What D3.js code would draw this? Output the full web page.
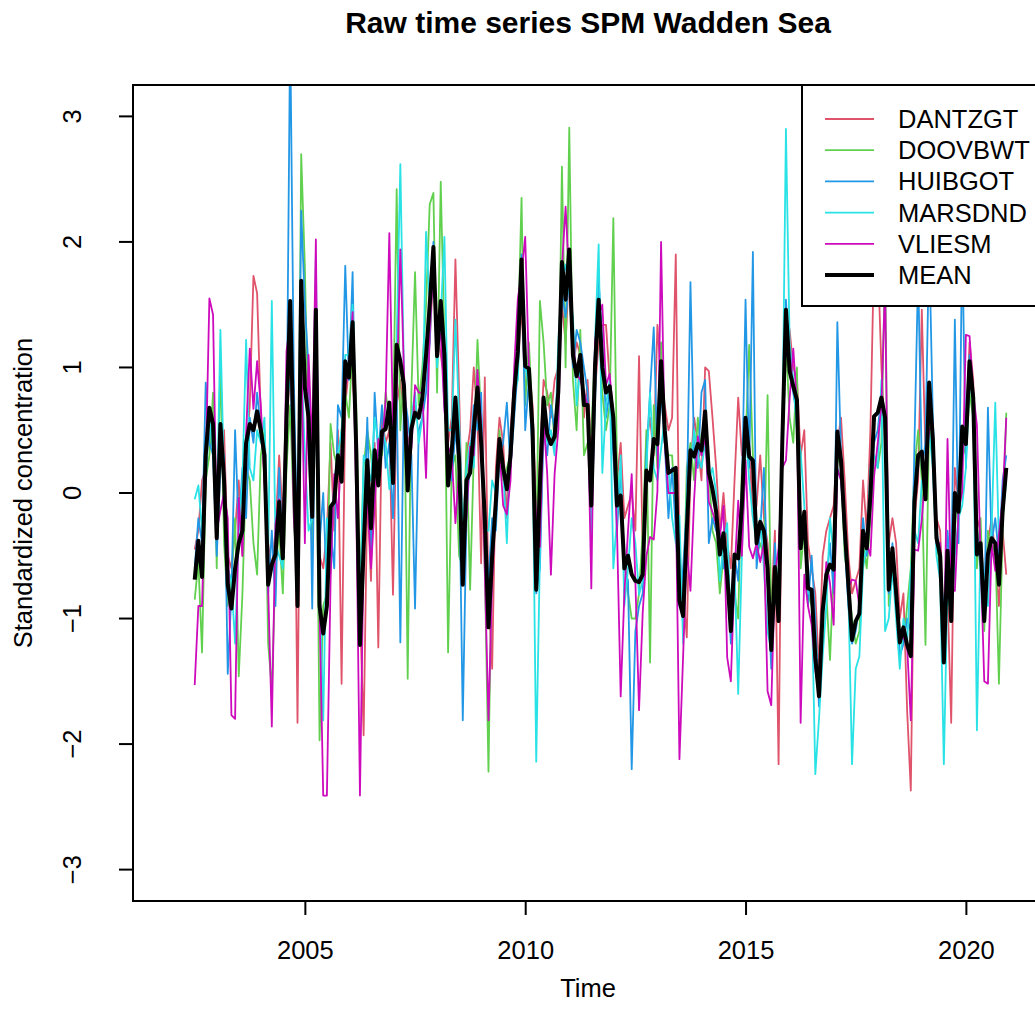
<!DOCTYPE html>
<html>
<head>
<meta charset="utf-8">
<script src="https://cdn.jsdelivr.net/npm/d3@7"></script>
<style>
  body { margin: 0; background: #fff; }
  svg text { font-family: "Liberation Sans", Arial, sans-serif; fill: #000; }
</style>
</head>
<body>
<svg id="chart" width="1035" height="1025"></svg>
<script>
// monthly series, first value Jul 2002
var startYear = 2002.5;
var freq = 12;

var xTicks = [2005, 2010, 2015, 2020];
var yTicks = [-3, -2, -1, 0, 1, 2, 3];

var seriesNames = ["DANTZGT", "DOOVBWT", "HUIBGOT", "MARSDND", "VLIESM", "MEAN"];
var seriesColors = ["#DF536B", "#61D04F", "#2297E6", "#28E2E5", "#CD0BBC", "#000000"];

var dantzgt = [
  -0.45,-0.30,0.10,0.20,0.55,0.40,-0.20,0.30,0.50,-0.50,
  -0.60,-0.30,0.10,-0.50,0.30,0.70,1.73,1.59,0.60,0.10,
  -0.40,-0.60,-0.30,0.30,-0.20,0.50,1.00,0.80,-1.83,1.20,
  1.00,0.80,0.20,1.20,-0.50,-0.60,-0.30,0.40,-0.30,0.50,
  -1.52,0.70,1.00,0.90,0.50,-0.90,-1.93,0.00,-0.70,0.40,
  -1.23,0.60,0.40,0.50,-0.81,0.70,0.90,0.60,0.40,0.50,
  0.70,0.60,0.80,1.00,1.20,1.80,1.30,1.10,0.90,0.40,
  0.60,1.86,0.80,-0.40,0.30,0.50,1.00,0.60,-0.56,0.92,
  -0.80,-1.40,0.20,0.60,0.40,-0.20,0.50,0.90,1.00,1.50,
  0.80,1.00,0.70,-0.20,0.30,0.90,0.80,0.60,0.90,1.00,
  1.50,1.20,1.80,1.00,1.20,1.10,0.60,0.90,0.30,0.80,
  1.20,1.34,1.34,0.90,0.50,0.10,0.40,-0.20,-0.10,0.00,
  -0.30,1.09,-0.50,0.40,0.60,0.30,1.34,0.90,0.70,0.50,
  0.60,1.90,-0.50,-0.80,-1.15,0.20,0.60,0.40,0.10,1.00,
  0.97,0.60,0.20,-0.30,0.00,-0.40,-0.60,0.10,0.76,0.30,
  0.30,0.40,-0.20,-0.10,0.30,-0.20,-0.40,-0.90,-0.30,-2.16,
  0.60,1.40,1.30,1.00,0.90,0.30,0.50,-0.40,-0.60,-0.80,
  -1.40,-0.50,-0.30,-0.20,-0.10,0.40,0.60,0.10,-0.50,-0.80,
  -0.70,-0.60,0.10,-0.30,0.50,1.92,1.90,1.00,0.40,-0.40,
  -0.20,-0.40,-1.00,-0.80,-1.73,-2.37,-0.20,0.10,1.46,0.30,
  0.80,0.50,-0.20,-0.30,-1.10,-0.80,-1.83,0.20,-0.10,0.30,
  0.50,1.20,0.90,-0.20,-0.30,-0.80,-0.40,-0.20,-0.50,-0.90,-0.30,-0.65
];

var doovbwt = [
  -0.85,-0.55,-1.27,0.10,0.30,0.80,-0.60,1.09,-0.40,-0.90,
  -0.70,-0.20,-1.46,-0.80,0.20,0.10,-0.40,-0.65,0.30,0.50,
  -1.20,-1.56,-0.60,-0.30,-0.80,0.20,0.70,-0.20,-0.80,2.70,
  1.80,0.40,-0.40,1.00,-1.97,-0.90,-0.80,0.55,0.30,0.20,
  0.50,0.80,0.60,1.20,0.70,-0.80,0.20,0.50,0.30,0.00,
  0.40,0.30,0.80,0.60,0.50,2.42,0.50,1.00,-1.48,0.80,
  1.76,0.70,1.00,1.50,2.30,2.39,0.80,2.48,1.20,-1.27,
  0.20,0.30,-0.50,-0.60,0.40,-0.77,0.30,1.22,0.60,-0.60,
  -2.22,-0.30,-0.20,0.50,0.10,0.20,0.30,0.70,1.20,2.35,
  0.70,1.20,0.60,-0.50,1.53,1.20,0.70,0.80,0.40,0.50,
  2.60,1.00,2.91,0.90,0.50,1.30,0.30,0.40,0.50,1.10,
  1.40,0.80,0.50,0.70,2.19,0.20,-0.10,-0.50,-0.80,-1.00,
  -1.00,-0.80,-0.30,0.50,-1.35,0.70,0.20,1.20,0.40,0.30,
  0.30,-0.20,-0.60,-1.00,0.20,0.40,0.10,0.60,0.30,0.50,
  0.20,-0.30,-0.40,-0.80,-0.50,-0.70,-1.10,-0.80,-1.00,0.20,
  0.40,1.18,0.30,-0.50,-0.40,-0.50,0.78,-1.00,-0.80,-0.60,
  0.30,1.20,0.60,0.40,1.00,-0.60,-0.30,-0.80,-0.90,-1.10,
  -1.60,-0.90,-0.80,-1.33,-0.60,0.30,0.20,-0.50,-0.70,-1.00,
  -1.20,-1.10,-0.40,-0.60,-0.20,0.30,0.20,0.40,1.88,-0.90,
  -0.50,-0.90,-1.10,-1.20,-0.90,-0.60,0.20,0.50,0.10,-1.21,
  0.60,0.30,-0.40,-0.60,-1.20,-0.90,-0.80,-0.30,0.10,0.40,
  0.30,0.80,0.60,-0.60,-0.20,-1.10,-0.30,-0.50,-0.40,-1.52,-0.30,0.64
];

var huibgot = [
  -0.60,-0.20,-0.40,0.88,0.40,0.30,-0.50,0.20,0.30,-1.44,
  -0.80,0.50,-0.30,0.20,-0.20,0.60,0.40,0.80,0.50,0.20,
  -0.80,-0.30,-0.90,0.20,-0.50,0.40,3.70,0.90,-0.50,2.25,
  1.50,1.00,-0.92,1.20,-0.40,0.00,-0.80,-0.30,-0.60,0.70,
  0.60,1.81,0.90,1.76,0.20,-0.90,-0.30,0.60,-0.50,0.80,
  0.30,0.70,0.20,0.40,-0.20,0.80,-1.19,0.80,0.60,0.30,
  -0.92,0.50,0.60,0.80,1.20,2.00,1.20,1.40,0.70,0.30,
  0.10,0.50,0.20,-1.81,-0.20,0.30,0.70,0.50,0.80,-0.40,
  -0.70,-0.20,-0.30,0.30,0.40,0.72,0.20,0.60,1.00,1.90,
  0.50,0.90,0.30,-0.80,-0.60,0.50,0.30,0.70,0.50,0.80,
  1.60,1.40,1.70,1.00,1.30,1.20,1.00,0.80,-0.20,0.70,
  1.70,1.20,0.60,0.80,0.30,-0.30,0.20,-0.60,-0.70,-2.20,
  -1.10,-0.90,-0.80,0.30,0.80,1.32,0.30,0.80,0.40,-0.20,
  0.20,-0.30,-0.90,-0.60,-0.10,1.68,0.30,0.20,0.80,0.90,
  -0.40,-0.20,-0.30,-0.30,-0.60,-0.60,-1.20,-0.50,-0.70,0.00,
  1.54,0.20,1.92,-0.60,-0.30,0.20,-0.70,-1.40,-0.40,-0.90,
  0.50,1.54,1.00,0.80,0.60,-0.30,-0.20,-0.90,-0.50,-1.00,
  -1.70,-1.00,-0.70,-0.40,-0.80,1.36,0.30,-0.40,-0.90,-1.20,
  -1.10,-0.90,-0.20,-0.50,-0.10,0.40,0.50,0.80,0.50,-0.80,
  -0.40,-0.80,-1.30,-1.20,-1.00,-1.10,0.40,1.76,0.20,0.40,
  2.00,0.60,-0.30,-0.50,-1.00,-0.30,-0.70,1.38,-0.40,2.04,
  0.20,1.10,0.80,-0.30,-0.60,-1.00,0.68,-0.40,-0.20,-0.50,0.10,0.30
];

var marsdnd = [
  -0.05,0.06,-0.30,0.10,0.60,0.30,-0.20,1.30,0.10,-0.60,
  -0.70,-1.20,-0.30,0.10,1.22,0.20,0.10,0.50,0.40,0.60,
  -0.50,1.53,-0.40,-0.50,-0.60,0.75,0.90,0.20,-0.70,1.10,
  0.30,-0.30,-0.20,1.88,-0.70,-1.81,-0.20,-0.50,0.10,0.30,
  0.50,1.10,1.10,1.50,0.40,-1.00,0.30,0.20,0.10,0.60,
  0.40,0.50,0.40,0.03,0.40,1.20,2.62,0.90,0.20,0.60,
  0.80,0.40,0.60,2.08,1.50,1.80,1.00,1.40,2.04,0.50,
  0.50,1.38,0.60,-0.30,0.20,0.40,0.20,0.90,0.60,-0.30,
  -0.30,0.10,0.00,0.40,0.20,-0.40,0.40,0.80,0.90,1.80,
  1.01,0.85,0.40,-2.14,-0.50,0.60,0.40,0.50,0.30,1.20,
  1.70,1.82,1.60,1.40,0.70,1.00,0.80,0.70,-0.34,1.20,
  1.98,0.16,0.70,0.90,-0.60,-0.20,0.30,-0.90,-0.60,-0.20,
  -0.40,-0.81,-0.70,0.20,0.80,0.20,0.10,0.35,0.60,0.20,
  -0.20,-0.40,-0.18,-1.20,0.00,0.20,0.50,0.30,0.20,0.40,
  0.10,0.20,0.00,-0.70,-0.40,-0.24,-1.10,-0.60,-1.60,-0.50,
  0.50,0.10,-0.20,-0.40,-0.20,-0.60,-1.10,-1.26,-0.80,-1.00,
  0.40,2.90,1.20,0.90,0.50,0.33,-0.10,-0.80,-0.80,-2.24,
  -1.80,-1.30,-0.90,-0.20,-0.50,0.20,0.10,-0.30,-0.80,-2.16,
  -1.40,-1.30,-0.60,-0.40,0.20,0.30,0.20,0.90,-1.10,-1.00,
  -0.60,-1.00,-1.40,-1.00,-1.20,-0.62,-0.30,-0.40,0.10,0.10,
  0.50,0.20,-0.50,-0.70,-2.16,-0.73,-1.00,-0.50,-0.20,-0.10,
  0.20,0.90,0.70,-1.89,-0.40,-0.70,-0.90,-0.30,0.72,-0.40,-0.20,0.11
];

var vliesm = [
  -1.53,-0.90,-0.90,0.20,1.55,1.42,-0.30,-0.14,0.00,-0.20,
  -1.77,-1.80,-0.04,-0.50,0.48,1.15,0.67,1.05,0.70,0.10,
  -0.75,-1.86,-0.25,-0.05,-0.50,1.13,1.35,-0.20,-0.67,1.20,
  -0.40,1.10,0.37,2.02,-0.93,-2.41,-2.41,-0.70,0.15,-0.20,
  0.37,0.84,1.00,1.44,-0.10,-2.41,-0.47,0.00,-0.60,-0.10,
  0.43,0.35,0.75,2.07,0.51,0.78,1.94,0.95,0.38,0.35,
  0.86,0.80,0.80,0.12,1.30,1.81,1.15,1.27,0.66,0.37,
  0.30,-0.24,0.20,-0.54,-0.20,0.37,0.30,0.98,0.56,-0.62,
  -1.81,-0.70,-0.05,0.35,-0.10,-0.17,0.10,1.00,1.55,1.75,
  2.04,1.00,0.50,-0.21,-0.43,0.60,0.15,-0.65,0.15,0.50,
  1.80,2.28,1.69,1.20,0.95,0.90,0.80,0.70,-0.76,1.20,
  1.42,1.50,0.86,0.95,0.61,-0.30,-1.62,-0.80,-0.30,0.15,
  -0.70,-1.73,-0.95,-0.50,-0.35,-0.37,0.01,2.00,0.40,0.00,
  0.00,0.00,-2.12,-1.30,-0.45,-0.78,-0.05,0.45,0.30,0.45,
  -0.07,-0.15,-0.25,-0.35,-0.10,-1.31,-1.50,-0.65,-0.06,-0.50,
  0.26,-0.43,-0.52,-0.40,-0.55,-0.40,-1.58,-1.69,-0.65,-0.44,
  0.20,0.26,0.75,1.15,0.70,-1.83,-0.65,-0.90,-1.05,-1.41,
  -1.60,-1.00,-0.55,-0.72,-1.05,0.19,0.10,-0.30,-0.75,-0.69,
  -0.70,-0.90,-0.40,-0.40,-0.50,0.13,0.40,0.70,1.67,-0.75,
  -0.50,-0.85,-1.15,-1.15,-1.22,-1.81,-0.45,-0.46,-0.21,0.16,
  0.50,0.55,-0.40,-0.40,-1.29,0.43,-0.77,-0.78,-0.15,0.01,
  1.26,1.25,0.80,0.54,-0.50,-1.50,-1.52,-0.40,-0.62,-0.33,-0.05,0.60
];

var mean = [
  -0.69,-0.38,-0.67,0.30,0.68,0.55,-0.36,0.55,0.10,-0.73,
  -0.92,-0.60,-0.40,-0.30,0.40,0.55,0.50,0.65,0.50,0.30,
  -0.73,-0.57,-0.49,-0.07,-0.52,0.60,1.53,0.30,-0.90,1.69,
  0.84,0.60,-0.19,1.46,-0.90,-1.12,-0.90,-0.11,-0.07,0.30,
  0.09,1.05,0.92,1.36,0.34,-1.21,-0.44,0.26,-0.28,0.34,
  0.06,0.49,0.51,0.72,0.08,1.18,1.05,0.85,0.02,0.51,
  0.64,0.60,0.76,1.10,1.50,1.96,1.09,1.53,1.10,0.06,
  0.34,0.76,0.26,-0.73,0.10,0.16,0.50,0.84,0.40,-0.20,
  -1.07,-0.50,-0.07,0.43,0.20,0.03,0.30,0.80,1.13,1.86,
  1.01,0.99,0.50,-0.77,0.06,0.76,0.47,0.39,0.45,0.80,
  1.84,1.54,1.94,1.10,0.93,1.10,0.70,0.70,-0.10,1.00,
  1.54,1.00,0.80,0.85,0.60,-0.10,-0.02,-0.60,-0.50,-0.65,
  -0.70,-0.71,-0.65,0.18,0.10,0.43,0.39,1.05,0.50,0.16,
  0.18,0.20,-0.86,-0.98,-0.30,0.34,0.29,0.39,0.34,0.65,
  0.16,0.03,-0.15,-0.49,-0.32,-0.65,-1.10,-0.49,-0.52,-0.10,
  0.60,0.29,0.26,-0.40,-0.23,-0.30,-0.60,-1.25,-0.59,-1.02,
  0.40,1.46,0.97,0.85,0.74,-0.44,-0.15,-0.76,-0.77,-1.31,
  -1.62,-0.94,-0.65,-0.57,-0.61,0.49,0.26,-0.28,-0.73,-1.17,
  -1.02,-0.96,-0.30,-0.44,-0.02,0.61,0.64,0.76,0.60,-0.77,
  -0.44,-0.79,-1.19,-1.07,-1.21,-1.30,-0.07,0.30,0.33,-0.05,
  0.88,0.43,-0.36,-0.50,-1.35,-0.46,-1.02,0.00,-0.15,0.53,
  0.39,1.05,0.76,-0.49,-0.40,-1.02,-0.49,-0.36,-0.40,-0.73,-0.15,0.20
];

var allSeries = [dantzgt, doovbwt, huibgot, marsdnd, vliesm, mean];

// plot region (right edge falls just outside the picture)
var plot = {left: 133, top: 85, right: 1043, bottom: 901};

var x = d3.scaleLinear().domain([2001.1, 2021.75]).range([plot.left, plot.right]);
var y = d3.scaleLinear().domain([-3.25, 3.25]).range([plot.bottom, plot.top]);

var svg = d3.select("#chart");

svg.append("defs").append("clipPath")
    .attr("id", "plotclip")
  .append("rect")
    .attr("x", plot.left)
    .attr("y", plot.top)
    .attr("width", plot.right - plot.left)
    .attr("height", plot.bottom - plot.top);

var line = d3.line()
    .x(function(d, i) { return x(startYear + i / freq); })
    .y(function(d) { return y(d); });

svg.append("g")
    .attr("clip-path", "url(#plotclip)")
  .selectAll("path")
    .data(allSeries)
    .enter()
  .append("path")
    .attr("d", line)
    .attr("fill", "none")
    .attr("stroke", function(d, i) { return seriesColors[i]; })
    .attr("stroke-width", function(d, i) { return i == 5 ? 4 : 1.8; })
    .attr("stroke-linejoin", "round");

// x axis
var xAxis = svg.append("g")
    .attr("transform", "translate(0," + plot.bottom + ")")
    .call(d3.axisBottom(x).tickValues(xTicks).tickSize(14).tickPadding(26).tickFormat(d3.format("d")));
xAxis.select(".domain").remove();
xAxis.selectAll("line").attr("stroke", "#000").attr("stroke-width", 2);
xAxis.selectAll("text")
    .attr("font-size", "25.5px")
    .attr("font-family", "'Liberation Sans', Arial, sans-serif");

// y axis, labels turned like R
var yAxis = svg.append("g");
yAxis.selectAll("line")
    .data(yTicks)
    .enter()
  .append("line")
    .attr("x1", plot.left - 14)
    .attr("x2", plot.left)
    .attr("y1", function(d) { return y(d); })
    .attr("y2", function(d) { return y(d); })
    .attr("stroke", "#000")
    .attr("stroke-width", 2);
yAxis.selectAll("text")
    .data(yTicks)
    .enter()
  .append("text")
    .attr("transform", function(d) { return "translate(81," + y(d) + ") rotate(-90)"; })
    .attr("text-anchor", "middle")
    .attr("font-size", "25.5px")
    .text(d3.format("d"));

// box
svg.append("rect")
    .attr("x", plot.left)
    .attr("y", plot.top)
    .attr("width", plot.right - plot.left)
    .attr("height", plot.bottom - plot.top)
    .attr("fill", "none")
    .attr("stroke", "#000")
    .attr("stroke-width", 2);

// titles
svg.append("text")
    .attr("x", (plot.left + plot.right) / 2)
    .attr("y", 33)
    .attr("text-anchor", "middle")
    .attr("font-size", "30px")
    .attr("font-weight", "bold")
    .text("Raw time series SPM Wadden Sea");

svg.append("text")
    .attr("x", (plot.left + plot.right) / 2)
    .attr("y", 997)
    .attr("text-anchor", "middle")
    .attr("font-size", "25.5px")
    .text("Time");

svg.append("text")
    .attr("transform", "translate(32," + (plot.top + plot.bottom) / 2 + ") rotate(-90)")
    .attr("text-anchor", "middle")
    .attr("font-size", "25.5px")
    .text("Standardized concentration");

// legend
var legend = svg.append("g");
legend.append("rect")
    .attr("x", 802)
    .attr("y", plot.top)
    .attr("width", plot.right - 802)
    .attr("height", 221)
    .attr("fill", "#fff")
    .attr("stroke", "#000")
    .attr("stroke-width", 2);

var item = legend.selectAll(".item")
    .data(seriesNames)
    .enter()
  .append("g")
    .attr("class", "item")
    .attr("transform", function(d, i) { return "translate(0," + (119 + i * 31.2) + ")"; });

item.append("line")
    .attr("x1", 825)
    .attr("x2", 874)
    .attr("stroke", function(d, i) { return seriesColors[i]; })
    .attr("stroke-width", function(d, i) { return i == 5 ? 4 : 1.8; });

item.append("text")
    .attr("x", 898)
    .attr("y", 9)
    .attr("font-size", "25.5px")
    .text(function(d) { return d; });
</script>
</body>
</html>
